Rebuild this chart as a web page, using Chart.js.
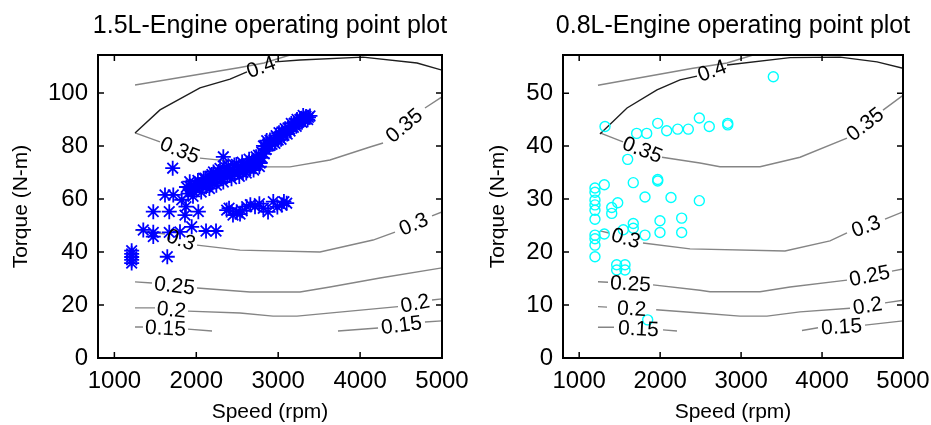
<!DOCTYPE html>
<html>
<head>
<meta charset="utf-8">
<script src="https://cdn.jsdelivr.net/npm/chart.js@4.4.1/dist/chart.umd.min.js"></script>
<style>
html, body { margin: 0; padding: 0; background: #fff; overflow: hidden; }
#wrap { position: relative; width: 931px; height: 425px; overflow: hidden; }
canvas { position: absolute; top: 0; }
#c15 { left: 0; }
#c08 { left: 465px; }
</style>
</head>
<body>
<div id="wrap">
  <canvas id="c15" width="490" height="425"></canvas>
  <canvas id="c08" width="490" height="425"></canvas>
</div>
<script>
// axis ticks
const speedTicks = [1000, 2000, 3000, 4000, 5000];
const torqueTicks15 = [0, 20, 40, 60, 80, 100];
const torqueTicks08 = [0, 10, 20, 30, 40, 50];

// operating points, 1.5L engine (speed rpm / torque N-m)
const speed15 = [
  1712, 2330, 1211, 1211, 1211, 1211, 1211, 1646, 1618, 1719, 1822, 1475, 1670, 1862, 2025, 1874,
  1353, 1475, 1475, 1670, 1801, 1944, 2119, 2241,
  2371, 2448, 2493, 2534, 2615, 2717, 2818, 2876, 2940, 3043, 3104,
  2400, 2560, 2660, 2770, 2990, 3070,
  1948, 1960, 1985, 2045, 2060, 2090, 2143, 2160, 2190, 2228, 2245, 2275, 2314, 2330, 2365,
  2412, 2430, 2465, 2509, 2525, 2560, 2595, 2610, 2645, 2680, 2700, 2730, 2753, 2770, 2802, 2800,
  1880, 1900, 1920, 1930, 2000, 2020, 2070, 2110, 2120, 2170, 2200, 2210, 2260, 2290, 2300, 2340,
  2380, 2390, 2440, 2470, 2490, 2540, 2570, 2620, 2660, 2700, 2720, 2760, 2780, 2830,
  2820, 2850, 2876, 2900, 2925, 2949, 2975, 3000, 3022, 3045, 3070, 3095, 3120, 3145, 3169, 3195,
  3220, 3242, 3265, 3290, 3315, 3340, 3360, 3388,
  2845, 2860, 2890, 2910, 2960, 2985, 3010, 3035, 3060, 3085, 3110, 3135, 3160, 3185, 3210, 3230,
  3255, 3280, 3305, 3330, 3370
];
const torque15 = [
  71.6, 75.9, 40.5, 39.3, 38.1, 37.0, 35.8, 38.2, 61.5, 61.5, 59.7, 55.2, 55.2, 53.9, 55.2, 57.1,
  48.3, 47.4, 45.8, 47.4, 47.6, 49.5, 47.9, 47.9,
  55.8, 53.9, 55.2, 54.3, 57.1, 57.1, 56.5, 55.1, 59.0, 57.7, 58.4,
  56.5, 55.5, 57.8, 58.2, 57.0, 59.0,
  63.4, 61.0, 65.6, 65.3, 62.6, 67.8, 66.4, 63.9, 69.2, 67.9, 65.2, 70.4, 69.1, 66.4, 71.7,
  70.2, 67.6, 72.8, 71.0, 68.5, 73.9, 72.1, 69.8, 75.0, 72.8, 70.9, 75.9, 74.0, 72.2, 75.5, 77.6,
  64.5, 62.0, 66.5, 64.5, 64.0, 67.0, 65.0, 67.8, 64.6, 68.5, 66.0, 70.2, 68.3, 71.5, 67.5, 70.0,
  68.8, 72.5, 70.8, 69.5, 73.0, 71.8, 70.0, 73.5, 71.5, 74.5, 72.5, 76.5, 73.5, 77.0,
  80.0, 78.6, 80.8, 82.2, 80.6, 82.3, 83.9, 82.2, 83.8, 85.3, 84.0, 85.3, 86.8, 85.6, 87.2, 88.6,
  87.4, 88.7, 90.0, 88.9, 90.2, 91.1, 89.9, 91.3,
  79.8, 82.0, 80.0, 81.5, 81.0, 83.0, 85.0, 82.5, 84.8, 86.5, 84.5, 86.5, 88.5, 87.0, 88.3, 90.0,
  89.0, 90.3, 91.5, 90.0, 90.8
];

// operating points, 0.8L engine
const speed08 = [
  3398, 1319, 1710, 1834, 1970, 2081, 2217, 2348, 2484, 2607, 2835, 2835,
  1599, 1970, 1970, 1668, 1310, 1195, 1195, 1195, 1195, 1195, 1195,
  1813, 2134, 2484, 1476, 1402, 1402, 1998, 2266, 1668, 1668, 1998, 2266,
  1195, 1310, 1545, 1813, 1195, 1195, 1195, 1463, 1566, 1463, 1566, 1846
];
const torque08 = [
  53.1, 43.7, 42.4, 42.4, 44.3, 42.9, 43.2, 43.2, 45.3, 43.7, 44.3, 44.0,
  37.5, 33.7, 33.4, 33.1, 32.7, 32.1, 31.3, 29.8, 28.9, 27.9, 26.2,
  30.4, 30.3, 29.7, 29.3, 28.4, 27.3, 25.9, 26.4, 25.4, 24.5, 23.7, 23.7,
  23.2, 23.4, 24.2, 23.2, 22.5, 21.3, 19.1, 17.6, 17.6, 16.6, 16.6, 7.2
];

// efficiency contours (null = break where the level label sits)
const contourLevels15 = ['', '0.4', '0.35', '0.3', '0.25', '0.2', '0.15', '0.15'];
const contourLines15 = [
  [[1252, 103.0], [2534, 109.6], [2826, 111.3], [3144, 114.3]],
  [[1252, 84.9], [1557, 93.6], [2045, 101.9], [2412, 105.2], [2619, 107.9], null, [2961, 111.7], [3266, 112.4], [4035, 113.5], [4695, 111.3], [5000, 108.6]],
  [[1252, 84.9], [1557, 81.5], null, [2045, 75.4], [2534, 73.9], [2814, 72.1], [3144, 72.1], [3632, 74.7], [4121, 79.6], [4280, 81.1], null, [4792, 94.3], [5000, 98.5]],
  [[1252, 48.3], [1618, 46.8], null, [2009, 42.6], [2534, 40.7], [3510, 40.0], [4158, 44.5], [4426, 47.5], null, [4878, 53.6], [5000, 55.1]],
  [[1252, 28.7], [1459, 28.3], null, [2009, 26.4], [2656, 24.9], [3266, 24.9], [3632, 26.8], [4243, 30.2], [5000, 34.0]],
  [[1252, 18.9], [1496, 18.9], null, [1899, 17.7], [2534, 17.0], [2937, 15.8], [3230, 15.8], [3877, 17.7], [4463, 19.4], null, [4878, 21.9], [5000, 22.3]],
  [[1252, 11.7], [1349, 11.7], null, [1899, 10.9], [2192, 10.2]],
  [[3730, 10.2], [4219, 11.3], null, [4792, 13.6], [5000, 14.0]]
];

const contourLevels08 = ['', '0.4', '0.35', '0.3', '0.25', '0.2', '0.15', '0.15'];
const contourLines08 = [
  [[1232, 51.5], [2406, 54.7], [2826, 55.7], [3147, 57.2]],
  [[1257, 42.3], [1591, 47.2], [1961, 50.6], [2245, 52.5], [2455, 53.2], null, [2826, 55.3], [3604, 56.7], [4222, 56.8], [4679, 55.9], [5000, 54.7]],
  [[1257, 42.5], [1541, 40.8], null, [2023, 37.9], [2492, 36.8], [2739, 36.1], [3234, 36.1], [3728, 37.9], [4308, 41.5], null, [4753, 46.8], [5000, 49.6]],
  [[1257, 24.0], [1368, 23.6], null, [1788, 21.7], [2369, 20.6], [3542, 20.2], [4098, 22.1], [4308, 23.6], null, [4778, 26.2], [5000, 27.6]],
  [[1232, 14.4], [1356, 14.3], null, [1912, 13.8], [2492, 12.8], [2616, 12.5], [3234, 12.5], [3604, 13.4], [4308, 14.7], null, [4864, 16.4], [5000, 16.8]],
  [[1232, 9.7], [1344, 9.6], null, [1951, 9.1], [2492, 8.5], [2986, 7.9], [3320, 7.9], [3728, 8.7], [4345, 9.4], null, [4778, 10.4], [5000, 10.9]],
  [[1232, 5.8], [1430, 5.8], null, [2035, 5.3], [2208, 5.1]],
  [[3752, 5.2], [3950, 5.7], null, [4531, 6.2], [5000, 7.0]]
];

const FONT = '"Liberation Sans", Arial, sans-serif';

// box round the axes with inward ticks on all four sides (matlab style)
const boxTicks = {
  id: 'boxTicks',
  afterDraw(chart) {
    const { ctx, chartArea: a, scales } = chart;
    ctx.save();
    ctx.strokeStyle = '#000';
    ctx.lineWidth = 1.5;
    ctx.beginPath();
    scales.x.ticks.forEach(t => {
      const px = scales.x.getPixelForValue(t.value);
      ctx.moveTo(px, a.bottom); ctx.lineTo(px, a.bottom - 6);
      ctx.moveTo(px, a.top); ctx.lineTo(px, a.top + 6);
    });
    scales.y.ticks.forEach(t => {
      const py = scales.y.getPixelForValue(t.value);
      ctx.moveTo(a.left, py); ctx.lineTo(a.left + 6, py);
      ctx.moveTo(a.right, py); ctx.lineTo(a.right - 6, py);
    });
    ctx.stroke();
    ctx.lineWidth = 2;
    ctx.strokeRect(a.left, a.top, a.right - a.left, a.bottom - a.top);
    ctx.restore();
  }
};

const makeTitle = text => ({
  id: 'plotTitle',
  afterDraw(chart) {
    const { ctx, chartArea: a } = chart;
    ctx.save();
    ctx.font = '25px ' + FONT;
    ctx.fillStyle = '#000';
    ctx.textAlign = 'center';
    ctx.textBaseline = 'alphabetic';
    ctx.fillText(text, (a.left + a.right) / 2, 33);
    ctx.restore();
  }
});

// clabel: put the level text in each gap of a contour, turned along the gap
const makeLabels = (lines, levels) => ({
  id: 'contourLabels',
  afterDatasetsDraw(chart) {
    const { ctx, scales: { x, y } } = chart;
    ctx.save();
    ctx.font = '21px ' + FONT;
    ctx.fillStyle = '#000';
    ctx.textAlign = 'center';
    ctx.textBaseline = 'middle';
    lines.forEach((line, k) => {
      if (!levels[k]) return;
      line.forEach((p, i) => {
        if (p !== null) return;
        const a = line[i - 1], b = line[i + 1];
        const ax = x.getPixelForValue(a[0]), ay = y.getPixelForValue(a[1]);
        const bx = x.getPixelForValue(b[0]), by = y.getPixelForValue(b[1]);
        ctx.save();
        ctx.translate((ax + bx) / 2, (ay + by) / 2);
        ctx.rotate(Math.atan2(by - ay, bx - ax));
        ctx.fillText(levels[k], 0, 1);
        ctx.restore();
      });
    });
    ctx.restore();
  }
});

const contourSets = (lines, levels) => lines.map((line, k) => ({
  data: line.map((p, i) => p ? { x: p[0], y: p[1] } : { x: line[i - 1][0], y: null }),
  showLine: true,
  borderColor: levels[k] === '0.4' ? '#1e1e1e' : '#858585',
  borderWidth: 1.4,
  pointRadius: 0,
  tension: 0
}));

const makeScales = (yMax, yTicks, yTitlePad) => ({
  x: {
    type: 'linear', min: 800, max: 5000,
    afterBuildTicks: s => { s.ticks = speedTicks.map(v => ({ value: v })); },
    afterFit: s => { s.height = 67; },
    grid: { display: false, drawTicks: false },
    border: { display: false },
    ticks: { color: '#000', font: { family: FONT, size: 24 }, padding: 9, maxRotation: 0, autoSkip: false, callback: v => String(v) },
    title: { display: true, text: 'Speed (rpm)', color: '#000', font: { family: FONT, size: 21 }, padding: { top: 0, bottom: 0 } }
  },
  y: {
    type: 'linear', min: 0, max: yMax,
    afterBuildTicks: s => { s.ticks = yTicks.map(v => ({ value: v })); },
    afterFit: s => { s.width = 98; },
    grid: { display: false, drawTicks: false },
    border: { display: false },
    ticks: { color: '#000', font: { family: FONT, size: 24 }, padding: 10, autoSkip: false, callback: v => String(v) },
    title: { display: true, text: 'Torque (N-m)', color: '#000', font: { family: FONT, size: 21 }, padding: { top: yTitlePad, bottom: 0 } }
  }
});

const makeChart = (id, title, pts, lines, levels, yMax, yTicks, yTitlePad, padRight) => {
  new Chart(document.getElementById(id), {
    type: 'scatter',
    data: { datasets: [pts, ...contourSets(lines, levels)] },
    options: {
      responsive: false,
      animation: false,
      events: [],
      layout: { padding: { top: 55, right: padRight, bottom: 0, left: 0 } },
      plugins: { legend: { display: false }, tooltip: { enabled: false } },
      scales: makeScales(yMax, yTicks, yTitlePad)
    },
    plugins: [boxTicks, makeTitle(title), makeLabels(lines, levels)]
  });
};

makeChart('c15', '1.5L-Engine operating point plot', {
  data: speed15.map((s, i) => ({ x: s, y: torque15[i] })),
  pointStyle: 'star', pointRadius: 7.5, borderColor: '#0000ff', backgroundColor: '#0000ff', borderWidth: 1.8
}, contourLines15, contourLevels15, 114.3, torqueTicks15, 9, 48);

makeChart('c08', '0.8L-Engine operating point plot', {
  data: speed08.map((s, i) => ({ x: s, y: torque08[i] })),
  pointStyle: 'circle', pointRadius: 5, borderColor: '#00ffff', backgroundColor: 'rgba(0,0,0,0)', borderWidth: 1.4
}, contourLines08, contourLevels08, 57.2, torqueTicks08, 21, 52);
</script>
</body>
</html>
